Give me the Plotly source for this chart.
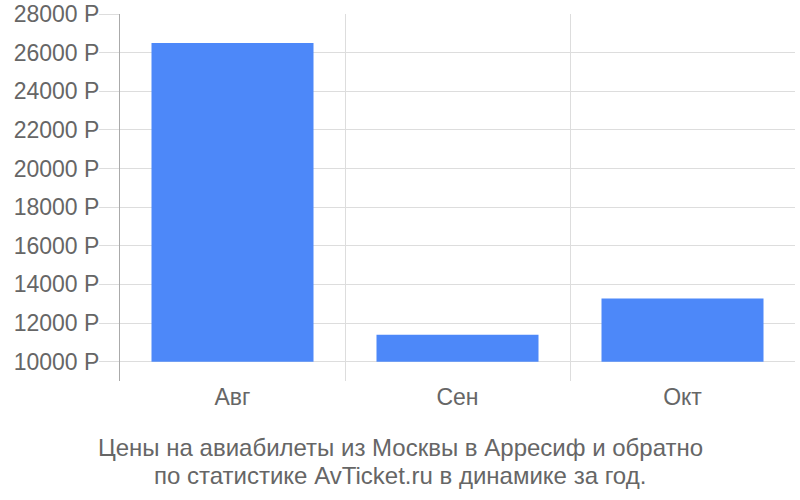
"""Average airfare Moscow - Arrecife by month, bar chart."""
import plotly.graph_objects as go

months = ["Авг", "Сен", "Окт"]
prices = [26500, 11400, 13270]
base_price = 10000
y_ticks = list(range(10000, 28001, 2000))
y_labels = [f"{v} Р" for v in y_ticks]
title_lines = [
    "Цены на авиабилеты из Москвы в Арресиф и обратно",
    "по статистике AvTicket.ru в динамике за год.",
]

fig = go.Figure()
fig.add_trace(go.Bar(
    x=months,
    y=[p - base_price for p in prices],
    base=base_price,
    marker=dict(color="#4d88f9", line=dict(width=0)),
    width=0.72,
    hoverinfo="skip",
))

# two caption lines below the plot, centred on the page
for i, line in enumerate(title_lines):
    fig.add_annotation(
        text=line, showarrow=False,
        xref="paper", yref="paper",
        x=(400 - 120) / 675, xanchor="center",
        y=-(66 + 28 * i) / 367, yanchor="middle",
        font=dict(size=24, color="#666666"),
    )

fig.update_layout(
    width=800, height=500,
    margin=dict(l=120, r=5, t=14, b=119, autoexpand=False),
    paper_bgcolor="white",
    plot_bgcolor="white",
    font=dict(family="Liberation Sans, Arial, sans-serif", size=23, color="#666666"),
    showlegend=False,
)
fig.update_xaxes(
    type="category",
    tickson="boundaries",
    showgrid=True, gridcolor="#dddddd", gridwidth=1,
    ticks="", showline=False, zeroline=False,
    range=[-0.5, 2.5],
    automargin=False,
)
fig.update_yaxes(
    range=[9000, 28000],
    tickvals=y_ticks, ticktext=y_labels,
    showgrid=True, gridcolor="#dddddd", gridwidth=1,
    ticks="outside", ticklen=20, tickcolor="#dddddd",
    showline=True, linecolor="#aaaaaa", linewidth=1,
    zeroline=False,
    automargin=False,
    ticklabeloverflow="allow",
    ticklabelstandoff=-5,
)

# drop the browser's default body margin so the figure fills the window
fig.write_html(
    "out.html",
    config={"displayModeBar": False},
    post_script="document.body.style.margin = '0';",
)
